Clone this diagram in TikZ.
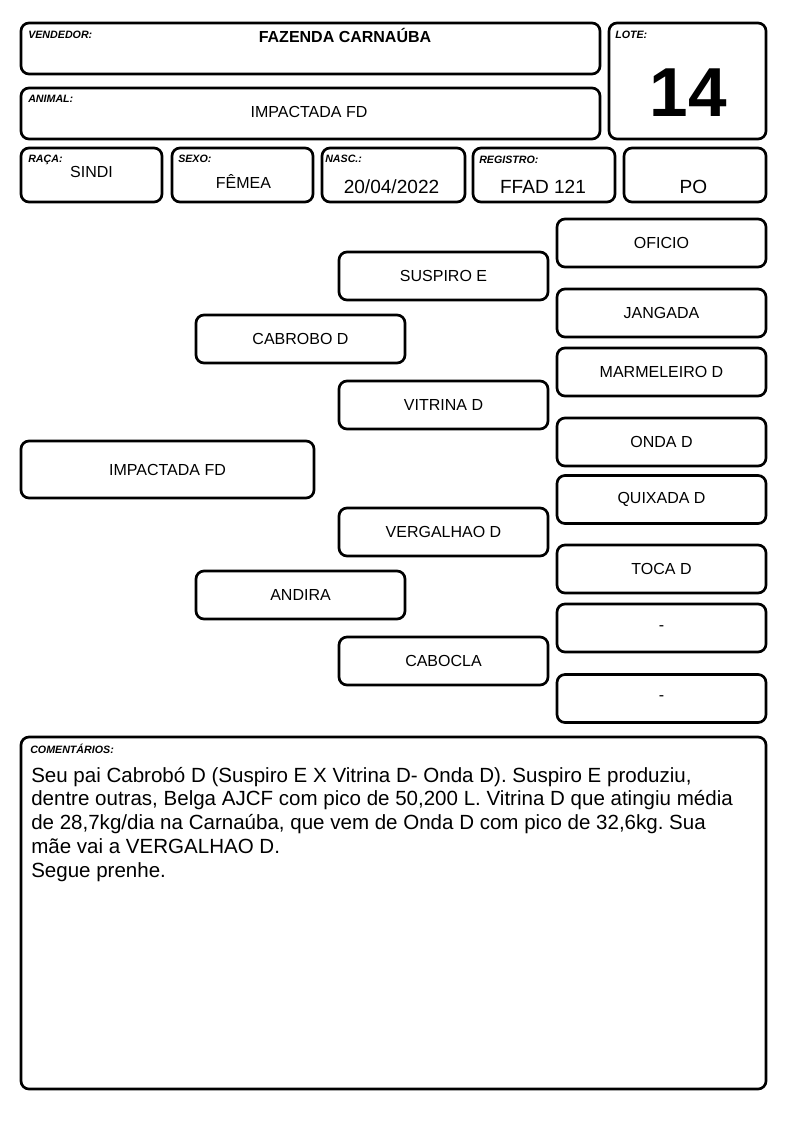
\documentclass[tikz,border=0pt]{standalone}
\usepackage{fontspec}
\setmainfont{Liberation Sans}
\frenchspacing
\tikzset{
  box/.style={draw, line width=2pt, rounded corners=6pt, inner sep=0pt},
  sz/.style 2 args={minimum width=#1*0.75pt, minimum height=#2*0.75pt},
  ped/.style={box, sz={209}{48}, font=\fontsize{12}{14}\selectfont},
  tag/.style={anchor=base west, inner sep=0pt, font=\fontsize{8}{9}\selectfont\bfseries\itshape},
  val/.style={anchor=base, inner sep=0pt, font=\fontsize{12}{14}\selectfont},
  big/.style={anchor=base, inner sep=0pt, font=\fontsize{14.3}{16}\selectfont}
}
\begin{document}
\begin{tikzpicture}[x=0.75pt,y=-0.75pt]
\useasboundingbox (0,0) rectangle (794,1123);
% header
\node[box, sz={579}{51}] (vendedor) at (310.5,48.5) {};
\node[box, sz={157}{116}] (lote) at (687.5,81) {};
\node[box, sz={579}{51}] (animal) at (310.5,113.5) {};
\node[box, sz={141}{54}] (raca) at (91.5,175) {};
\node[box, sz={141}{54}] (sexo) at (242.5,175) {};
\node[box, sz={143}{54}] (nasc) at (393.5,175) {};
\node[box, sz={142}{54}] (registro) at (544,175) {};
\node[box, sz={142}{54}] (po) at (695,175) {};
\node[tag] (vendedorlbl) at (28,38.5) {VENDEDOR:};
\node[tag] (lotelbl) at (615,38.5) {LOTE:};
\node[tag] (animallbl) at (28,102.5) {ANIMAL:};
\node[tag] (racalbl) at (28,162.5) {RAÇA:};
\node[tag] (sexolbl) at (178,163) {SEXO:};
\node[tag] (nasclbl) at (325,163) {NASC.:};
\node[tag] (registrolbl) at (479,164) {REGISTRO:};
\node[val, font=\fontsize{12}{14}\selectfont\bfseries] (vendedortxt) at (345,42.7) {FAZENDA CARNAÚBA};
\node[val, font=\fontsize{52}{60}\selectfont\bfseries] (lotetxt) at (688,117) {14};
\node[val] (animaltxt) at (309,117.7) {IMPACTADA FD};
\node[val] (racatxt) at (91.5,177.3) {SINDI};
\node[val] (sexotxt) at (243.5,189) {FÊMEA};
\node[big] (nasctxt) at (391.5,193.3) {20/04/2022};
\node[big] (registrotxt) at (543,193.3) {FFAD 121};
\node[big] (potxt) at (693.5,193.3) {PO};
% pedigree
\node[box, sz={293}{57}, font=\fontsize{12}{14}\selectfont] (ind) at (167.5,469.5) {IMPACTADA FD};
\node[ped] (pai) at (300.5,339) {CABROBO D};
\node[ped] (mae) at (300.5,595) {ANDIRA};
\node[ped] (avopp) at (443.5,276) {SUSPIRO E};
\node[ped] (avopm) at (443.5,405) {VITRINA D};
\node[ped] (avomp) at (443.5,532) {VERGALHAO D};
\node[ped] (avomm) at (443.5,661) {CABOCLA};
\node[ped] (bis1) at (661.5,243) {OFICIO};
\node[ped] (bis2) at (661.5,313) {JANGADA};
\node[ped] (bis3) at (661.5,372) {MARMELEIRO D};
\node[ped] (bis4) at (661.5,442) {ONDA D};
\node[ped] (bis5) at (661.5,499.5) {QUIXADA D};
\node[ped] (bis6) at (661.5,569) {TOCA D};
\node[ped] (bis7) at (661.5,628) {-};
\node[ped] (bis8) at (661.5,698.5) {-};
% comentarios
\node[box, sz={745}{352}] (coment) at (393.5,913) {};
\node[tag] (comentlbl) at (30,753.3) {COMENTÁRIOS:};
\node[anchor=base west, inner sep=0pt, align=left, font=\fontsize{15.4}{17.8}\selectfont] (comenttxt) at (31,877)
  {Seu pai Cabrobó D (Suspiro E X Vitrina D- Onda D). Suspiro E produziu,\\
   dentre outras, Belga AJCF com pico de 50,200 L. Vitrina D que atingiu média\\
   de 28,7kg/dia na Carnaúba, que vem de Onda D com pico de 32,6kg. Sua\\
   mãe vai a VERGALHAO D.\\
   Segue prenhe.};
\end{tikzpicture}
\end{document}
